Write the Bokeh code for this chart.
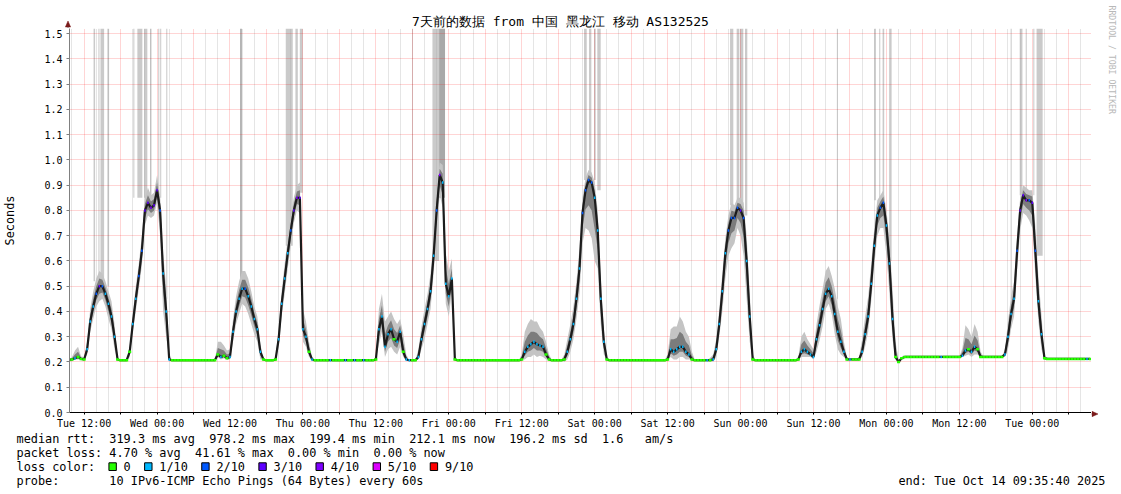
import re
import math
from bokeh.plotting import figure
from bokeh.layouts import column, row
from bokeh.models import Range1d, FixedTicker, PrintfTickFormatter
from bokeh.core.properties import value
from bokeh.embed import file_html
from bokeh.resources import INLINE

# ------------------------------------------------------------------ data
# time axis: hours after Tue Oct 7 2025 00:00, one sample every 30 minutes
FIRST_SAMPLE_HOUR = 9.5
SAMPLE_STEP_H = 0.5

# median round-trip time (seconds)
median_rtt = [
    0.208, 0.210, 0.215, 0.220, 0.212,
    0.210, 0.250, 0.360, 0.420, 0.470, 0.500, 0.500, 0.470, 0.430, 0.380, 0.300, 0.210,
    0.207, 0.207, 0.207, 0.240, 0.350, 0.450, 0.540, 0.640, 0.800, 0.830, 0.810, 0.820,
    0.880, 0.800, 0.550, 0.400, 0.210, 0.207, 0.207, 0.207, 0.207, 0.207, 0.207, 0.207,
    0.207, 0.207, 0.207, 0.207, 0.207, 0.207, 0.207, 0.207, 0.230, 0.220, 0.225, 0.215,
    0.220, 0.320, 0.400, 0.450, 0.490, 0.490, 0.460, 0.420, 0.370, 0.330, 0.240, 0.210,
    0.207, 0.207, 0.207, 0.210, 0.290, 0.430, 0.530, 0.630, 0.720, 0.800, 0.850, 0.850,
    0.330, 0.300, 0.240, 0.210, 0.207, 0.207, 0.207, 0.207, 0.207, 0.207, 0.207, 0.207,
    0.207, 0.207, 0.207, 0.207, 0.207, 0.207, 0.207, 0.207, 0.207, 0.207, 0.207, 0.207,
    0.210, 0.330, 0.380, 0.260, 0.310, 0.330, 0.290, 0.280, 0.320, 0.240, 0.210, 0.207,
    0.207, 0.207, 0.220, 0.290, 0.350, 0.410, 0.480, 0.620, 0.800, 0.940, 0.910, 0.510,
    0.460, 0.530, 0.210, 0.207, 0.207, 0.207, 0.207, 0.207, 0.207, 0.207, 0.207, 0.207,
    0.207, 0.207, 0.207, 0.207, 0.207, 0.207, 0.207, 0.207, 0.207, 0.207, 0.207, 0.207,
    0.210, 0.240, 0.260, 0.270, 0.280, 0.270, 0.265, 0.260, 0.230, 0.210, 0.207, 0.207,
    0.207, 0.207, 0.210, 0.240, 0.290, 0.350, 0.450, 0.570, 0.790, 0.880, 0.920, 0.910,
    0.850, 0.720, 0.450, 0.280, 0.210, 0.207, 0.207, 0.207, 0.207, 0.207, 0.207, 0.207,
    0.207, 0.207, 0.207, 0.207, 0.207, 0.207, 0.207, 0.207, 0.207, 0.207, 0.207, 0.207,
    0.210, 0.250, 0.240, 0.250, 0.260, 0.260, 0.240, 0.230, 0.210, 0.207, 0.207, 0.207,
    0.207, 0.207, 0.207, 0.210, 0.250, 0.350, 0.480, 0.630, 0.720, 0.770, 0.770, 0.810,
    0.800, 0.770, 0.600, 0.380, 0.210, 0.207, 0.207, 0.207, 0.207, 0.207, 0.207, 0.207,
    0.207, 0.207, 0.207, 0.207, 0.207, 0.207, 0.207, 0.210, 0.240, 0.250, 0.240, 0.230,
    0.220, 0.290, 0.345, 0.410, 0.470, 0.490, 0.460, 0.390, 0.320, 0.280, 0.240, 0.210,
    0.210, 0.210, 0.210, 0.210, 0.240, 0.310, 0.380, 0.510, 0.660, 0.780, 0.810, 0.830,
    0.740, 0.590, 0.370, 0.220, 0.200, 0.215, 0.220, 0.220, 0.220, 0.220, 0.220, 0.220,
    0.220, 0.220, 0.220, 0.220, 0.220, 0.220, 0.220, 0.220, 0.220, 0.220, 0.220, 0.220,
    0.220, 0.225, 0.245, 0.250, 0.240, 0.260, 0.250, 0.220, 0.220, 0.220, 0.220, 0.220,
    0.220, 0.220, 0.220, 0.230, 0.300, 0.390, 0.450, 0.640, 0.800, 0.860, 0.840, 0.840,
    0.830, 0.640, 0.440, 0.310, 0.215, 0.212, 0.212, 0.212, 0.212, 0.212, 0.212, 0.212,
    0.212, 0.212, 0.212, 0.212, 0.212, 0.212, 0.212, 0.212,
]

# smoke: spread of the pings above / below the median (seconds)
smoke_up = [
    0.000, 0.010, 0.030, 0.040, 0.010,
    0.010, 0.030, 0.050, 0.060, 0.060, 0.060, 0.050, 0.050, 0.050, 0.060, 0.050, 0.010,
    0.000, 0.000, 0.000, 0.020, 0.040, 0.050, 0.050, 0.060, 0.050, 0.060, 0.050, 0.050,
    0.060, 0.060, 0.080, 0.100, 0.020, 0.000, 0.000, 0.000, 0.000, 0.000, 0.000, 0.000,
    0.000, 0.000, 0.000, 0.000, 0.000, 0.000, 0.000, 0.000, 0.050, 0.060, 0.040, 0.030,
    0.030, 0.050, 0.060, 0.070, 0.070, 0.070, 0.070, 0.060, 0.050, 0.050, 0.030, 0.000,
    0.000, 0.000, 0.000, 0.010, 0.040, 0.050, 0.060, 0.060, 0.060, 0.050, 0.050, 0.060,
    0.080, 0.060, 0.040, 0.010, 0.000, 0.000, 0.000, 0.000, 0.000, 0.000, 0.000, 0.000,
    0.000, 0.000, 0.000, 0.000, 0.000, 0.000, 0.000, 0.000, 0.000, 0.000, 0.000, 0.000,
    0.010, 0.080, 0.090, 0.100, 0.070, 0.070, 0.080, 0.070, 0.050, 0.070, 0.020, 0.000,
    0.000, 0.000, 0.030, 0.050, 0.060, 0.060, 0.070, 0.070, 0.080, 0.050, 0.070, 0.120,
    0.100, 0.080, 0.010, 0.000, 0.000, 0.000, 0.000, 0.000, 0.000, 0.000, 0.000, 0.000,
    0.000, 0.000, 0.000, 0.000, 0.000, 0.000, 0.000, 0.000, 0.000, 0.000, 0.000, 0.000,
    0.020, 0.080, 0.090, 0.100, 0.080, 0.090, 0.070, 0.060, 0.050, 0.020, 0.000, 0.000,
    0.000, 0.000, 0.020, 0.050, 0.060, 0.070, 0.070, 0.080, 0.060, 0.050, 0.040, 0.040,
    0.060, 0.080, 0.080, 0.050, 0.010, 0.000, 0.000, 0.000, 0.000, 0.000, 0.000, 0.000,
    0.000, 0.000, 0.000, 0.000, 0.000, 0.000, 0.000, 0.000, 0.000, 0.000, 0.000, 0.000,
    0.020, 0.080, 0.100, 0.090, 0.120, 0.100, 0.080, 0.070, 0.030, 0.000, 0.000, 0.000,
    0.000, 0.000, 0.010, 0.020, 0.040, 0.060, 0.070, 0.060, 0.060, 0.060, 0.050, 0.040,
    0.050, 0.060, 0.100, 0.100, 0.020, 0.000, 0.000, 0.000, 0.000, 0.000, 0.000, 0.000,
    0.000, 0.000, 0.000, 0.000, 0.000, 0.000, 0.000, 0.010, 0.060, 0.070, 0.050, 0.040,
    0.030, 0.060, 0.080, 0.080, 0.090, 0.090, 0.080, 0.100, 0.100, 0.090, 0.040, 0.010,
    0.000, 0.000, 0.000, 0.010, 0.050, 0.070, 0.080, 0.080, 0.070, 0.060, 0.050, 0.050,
    0.060, 0.100, 0.120, 0.060, 0.010, 0.000, 0.000, 0.000, 0.000, 0.000, 0.000, 0.000,
    0.000, 0.000, 0.000, 0.000, 0.000, 0.000, 0.000, 0.000, 0.000, 0.000, 0.000, 0.000,
    0.000, 0.030, 0.100, 0.080, 0.060, 0.090, 0.070, 0.020, 0.000, 0.000, 0.000, 0.000,
    0.000, 0.000, 0.000, 0.020, 0.060, 0.070, 0.070, 0.060, 0.050, 0.040, 0.050, 0.040,
    0.050, 0.100, 0.100, 0.080, 0.010, 0.000, 0.000, 0.000, 0.000, 0.000, 0.000, 0.000,
    0.000, 0.000, 0.000, 0.000, 0.000, 0.000, 0.000, 0.000,
]
smoke_dn = [
    0.000, 0.000, 0.005, 0.010, 0.000,
    0.000, 0.020, 0.040, 0.050, 0.050, 0.060, 0.050, 0.050, 0.060, 0.050, 0.050, 0.000,
    0.000, 0.000, 0.000, 0.020, 0.030, 0.050, 0.050, 0.060, 0.060, 0.050, 0.040, 0.040,
    0.050, 0.100, 0.150, 0.100, 0.000, 0.000, 0.000, 0.000, 0.000, 0.000, 0.000, 0.000,
    0.000, 0.000, 0.000, 0.000, 0.000, 0.000, 0.000, 0.000, 0.010, 0.010, 0.010, 0.005,
    0.010, 0.040, 0.050, 0.060, 0.060, 0.070, 0.070, 0.070, 0.060, 0.050, 0.030, 0.000,
    0.000, 0.000, 0.000, 0.000, 0.030, 0.050, 0.060, 0.060, 0.060, 0.050, 0.050, 0.060,
    0.050, 0.040, 0.020, 0.000, 0.000, 0.000, 0.000, 0.000, 0.000, 0.000, 0.000, 0.000,
    0.000, 0.000, 0.000, 0.000, 0.000, 0.000, 0.000, 0.000, 0.000, 0.000, 0.000, 0.000,
    0.000, 0.060, 0.060, 0.040, 0.060, 0.070, 0.050, 0.050, 0.060, 0.020, 0.000, 0.000,
    0.000, 0.000, 0.010, 0.040, 0.060, 0.060, 0.070, 0.070, 0.080, 0.080, 0.100, 0.080,
    0.080, 0.050, 0.000, 0.000, 0.000, 0.000, 0.000, 0.000, 0.000, 0.000, 0.000, 0.000,
    0.000, 0.000, 0.000, 0.000, 0.000, 0.000, 0.000, 0.000, 0.000, 0.000, 0.000, 0.000,
    0.000, 0.030, 0.040, 0.050, 0.050, 0.050, 0.040, 0.040, 0.020, 0.000, 0.000, 0.000,
    0.000, 0.000, 0.010, 0.030, 0.050, 0.060, 0.080, 0.100, 0.120, 0.150, 0.200, 0.220,
    0.250, 0.150, 0.100, 0.050, 0.000, 0.000, 0.000, 0.000, 0.000, 0.000, 0.000, 0.000,
    0.000, 0.000, 0.000, 0.000, 0.000, 0.000, 0.000, 0.000, 0.000, 0.000, 0.000, 0.000,
    0.000, 0.030, 0.030, 0.040, 0.040, 0.040, 0.030, 0.020, 0.000, 0.000, 0.000, 0.000,
    0.000, 0.000, 0.000, 0.010, 0.030, 0.050, 0.080, 0.100, 0.100, 0.120, 0.100, 0.080,
    0.100, 0.150, 0.150, 0.100, 0.000, 0.000, 0.000, 0.000, 0.000, 0.000, 0.000, 0.000,
    0.000, 0.000, 0.000, 0.000, 0.000, 0.000, 0.000, 0.000, 0.020, 0.030, 0.020, 0.010,
    0.010, 0.050, 0.060, 0.070, 0.060, 0.060, 0.070, 0.080, 0.070, 0.050, 0.020, 0.000,
    0.000, 0.000, 0.000, 0.000, 0.020, 0.050, 0.060, 0.070, 0.080, 0.080, 0.080, 0.100,
    0.120, 0.120, 0.080, 0.010, 0.000, 0.000, 0.000, 0.000, 0.000, 0.000, 0.000, 0.000,
    0.000, 0.000, 0.000, 0.000, 0.000, 0.000, 0.000, 0.000, 0.000, 0.000, 0.000, 0.000,
    0.000, 0.005, 0.020, 0.020, 0.020, 0.030, 0.020, 0.000, 0.000, 0.000, 0.000, 0.000,
    0.000, 0.000, 0.000, 0.010, 0.050, 0.060, 0.070, 0.080, 0.080, 0.070, 0.060, 0.080,
    0.100, 0.100, 0.080, 0.060, 0.000, 0.000, 0.000, 0.000, 0.000, 0.000, 0.000, 0.000,
    0.000, 0.000, 0.000, 0.000, 0.000, 0.000, 0.000, 0.000,
]

# lost pings out of 10 per sample
loss = [
    0, 0, 1, 0, 0,
    0, 1, 1, 1, 2, 3, 2, 1, 1, 1, 1, 0,
    0, 0, 0, 0, 1, 1, 2, 2, 3, 3, 4, 3,
    3, 2, 1, 1, 1, 0, 0, 0, 0, 0, 0, 0,
    0, 0, 0, 0, 0, 0, 0, 0, 0, 1, 0, 0,
    1, 1, 1, 1, 1, 2, 1, 1, 1, 1, 1, 0,
    0, 0, 0, 0, 1, 1, 1, 1, 2, 3, 4, 3,
    1, 1, 0, 1, 0, 0, 0, 0, 0, 1, 0, 0,
    0, 0, 1, 0, 0, 1, 0, 0, 1, 0, 0, 0,
    0, 1, 1, 1, 1, 1, 0, 1, 1, 0, 1, 1,
    0, 0, 1, 1, 1, 1, 1, 1, 2, 4, 1, 1,
    1, 1, 0, 0, 0, 0, 0, 0, 0, 0, 0, 0,
    0, 0, 0, 0, 0, 0, 0, 0, 0, 0, 0, 0,
    0, 1, 1, 1, 1, 1, 1, 1, 0, 0, 0, 0,
    0, 0, 0, 1, 1, 1, 1, 1, 2, 2, 2, 2,
    1, 1, 1, 1, 0, 0, 0, 0, 0, 0, 0, 0,
    0, 0, 0, 0, 0, 0, 0, 0, 0, 0, 0, 0,
    0, 1, 1, 1, 1, 1, 1, 1, 0, 0, 0, 0,
    0, 1, 0, 1, 1, 1, 1, 1, 2, 2, 2, 2,
    3, 2, 1, 1, 0, 0, 0, 0, 0, 0, 0, 0,
    0, 0, 0, 0, 0, 0, 0, 0, 1, 1, 1, 1,
    1, 1, 1, 1, 1, 1, 1, 1, 1, 1, 1, 0,
    1, 0, 0, 0, 1, 1, 1, 1, 1, 1, 2, 2,
    1, 1, 1, 0, 0, 0, 0, 0, 0, 0, 0, 0,
    0, 0, 0, 0, 0, 0, 1, 0, 0, 0, 0, 0,
    0, 1, 1, 0, 1, 1, 0, 0, 0, 0, 0, 0,
    0, 0, 0, 1, 1, 1, 1, 2, 3, 3, 4, 2,
    3, 2, 1, 1, 0, 0, 0, 0, 0, 0, 0, 0,
    0, 0, 0, 0, 0, 0, 1, 0,
]

# pings beyond the graph top (vertical smoke columns)
spike_hour = [13.68, 14.44, 14.99, 15.97, 20.18, 21.17, 22.13, 22.97, 24.28, 24.60,
              25.60, 37.81, 45.75, 46.96, 47.73, 66.03, 69.85, 70.89, 94.47, 95.26,
              96.03, 96.71, 118.54, 119.58, 120.18, 120.92, 135.92, 142.13, 142.90,
              143.50, 144.65, 164.52, 166.15, 167.00, 168.25, 169.20]
spike_width = [0.25, 0.17, 0.60, 0.28, 0.17, 0.82, 0.54, 0.17, 0.17, 0.17,
               0.17, 0.28, 1.15, 0.39, 0.49, 0.15, 1.09, 0.98, 0.44, 0.38,
               0.28, 0.56, 0.54, 0.44, 0.54, 0.38, 0.15, 0.28, 0.17,
               0.26, 0.40, 0.17, 0.45, 0.17, 0.17, 1.00]
spike_bottom = [0.52, 0.52, 0.52, 0.50, 0.85, 0.85, 0.85, 0.85, 0.88, 0.85,
                0.45, 0.50, 0.66, 0.87, 0.87, 0.21, 0.60, 0.85, 0.92, 0.92,
                0.92, 0.88, 0.82, 0.82, 0.82, 0.78, 0.45, 0.84, 0.84,
                0.84, 0.60, 0.45, 0.86, 0.86, 0.86, 0.62]
spike_dark = [0, 0, 0, 0, 0, 0, 0, 1, 0, 0,
              0, 1, 0, 0, 0, 0, 0, 1, 0, 0,
              0, 0, 0, 0, 0, 0, 0, 0, 0,
              0, 0, 0, 0, 0, 0, 0]

tick_hours = [12, 24, 36, 48, 60, 72, 84, 96, 108, 120, 132, 144, 156, 168]
tick_labels = ["Tue 12:00", "Wed 00:00", "Wed 12:00", "Thu 00:00", "Thu 12:00",
               "Fri 00:00", "Fri 12:00", "Sat 00:00", "Sat 12:00", "Sun 00:00",
               "Sun 12:00", "Mon 00:00", "Mon 12:00", "Tue 00:00"]
y_ticks = [0.0, 0.1, 0.2, 0.3, 0.4, 0.5, 0.6, 0.7, 0.8, 0.9, 1.0, 1.1, 1.2, 1.3, 1.4, 1.5]

loss_levels = [0, 1, 2, 3, 4, 5, 9]
loss_labels = ["0", "1/10", "2/10", "3/10", "4/10", "5/10", "9/10"]
loss_colors = ["#26ff00", "#00b8ff", "#0059ff", "#5e00ff", "#7e00ff", "#dd00ff", "#ff0000"]

title_text = "7天前的数据 from 中国 黑龙江 移动 AS132525"
rtt_row = "median rtt:  319.3 ms avg  978.2 ms max  199.4 ms min  212.1 ms now  196.2 ms sd  1.6   am/s"
pl_row = "packet loss: 4.70 % avg  41.61 % max  0.00 % min  0.00 % now"
probe_row = "probe:       10 IPv6-ICMP Echo Pings (64 Bytes) every 60s"
end_text = "end: Tue Oct 14 09:35:40 2025"
credit_text = "RRDTOOL / TOBI OETIKER"

n = len(median_rtt)
if not (len(smoke_up) == n and len(smoke_dn) == n and len(loss) == n):
    raise SystemExit("length mismatch %d %d %d %d" % (n, len(smoke_up), len(smoke_dn), len(loss)))
hours = [FIRST_SAMPLE_HOUR + SAMPLE_STEP_H * i for i in range(n)]

# ------------------------------------------------------------------ layout
FONT = "DejaVu Sans Mono"
PAGE_W, PAGE_H = 1121, 494
FRAME_L, FRAME_T = 67, 28          # page pixels of the graph area
FRAME_W, FRAME_H = 1024, 385
FRAME_R = FRAME_L + FRAME_W        # 1091
FRAME_B = FRAME_T + FRAME_H        # 413
MAIN_BOTTOM = 431                  # bottom of the main graph block
X_START = 9.594                    # Tue Oct 7 09:35:40
PX_PER_H = 6.09
X_END = X_START + FRAME_W / PX_PER_H
Y_TOP = 1.52
ARROW_C = "#7a1a1a"


def blank(width, height, x0, x1, y0, y1):
    """figure whose whole canvas is a frame measured in page pixels (y down)"""
    f = figure(width=width, height=height, output_backend="svg", toolbar_location=None,
               x_range=Range1d(x0, x1), y_range=Range1d(y1, y0),
               x_axis_location=None, y_axis_location=None, min_border=0,
               outline_line_color=None, background_fill_color="white",
               border_fill_color="white")
    f.grid.visible = False
    return f


# --- top strip: title and y-axis arrow
top = blank(FRAME_R, FRAME_T, 0, FRAME_R, 0, FRAME_T)
top.text(x=[560], y=[21], text=[title_text], text_font=value(FONT),
         text_font_size=value("13px"), text_align="center", text_baseline="middle",
         text_color="black")
top.segment(x0=[FRAME_L + 0.5], y0=[24], x1=[FRAME_L + 0.5], y1=[FRAME_T],
            line_color="#808080", line_width=1)
top.patch(x=[FRAME_L + 0.5 - 2.6, FRAME_L + 0.5 + 2.6, FRAME_L + 0.5], y=[26.5, 26.5, 20.5],
          fill_color=ARROW_C, line_color=ARROW_C, line_width=0.5)

# --- main graph
p = figure(width=FRAME_R, height=MAIN_BOTTOM - FRAME_T, output_backend="svg",
           toolbar_location=None,
           x_range=Range1d(X_START, X_END), y_range=Range1d(0, Y_TOP),
           min_border_left=FRAME_L, min_border_right=0, min_border_top=0,
           min_border_bottom=MAIN_BOTTOM - FRAME_B,
           background_fill_color="white", border_fill_color="white",
           outline_line_color=None)

six_h = [h for h in range(12, 178, 6)]
two_h = [h for h in range(10, 178, 2) if h % 6 != 0]
p.xgrid.ticker = FixedTicker(ticks=six_h, minor_ticks=two_h)
p.xgrid.grid_line_color = "#ff0000"
p.xgrid.grid_line_alpha = 0.33
p.xgrid.grid_line_dash = "1 1"
p.xgrid.minor_grid_line_color = "#a8a8a8"
p.xgrid.minor_grid_line_alpha = 0.6
p.xgrid.minor_grid_line_dash = "1 1"
p.ygrid.ticker = FixedTicker(ticks=y_ticks)
p.ygrid.grid_line_color = "#ff0000"
p.ygrid.grid_line_alpha = 0.33
p.ygrid.grid_line_dash = "1 1"

p.xaxis.ticker = FixedTicker(ticks=tick_hours, minor_ticks=[h for h in six_h if h % 12 != 0])
p.xaxis.major_label_overrides = dict(zip(tick_hours, tick_labels))
p.xaxis.axis_line_color = "black"
p.xaxis.major_tick_line_color = "black"
p.xaxis.minor_tick_line_color = "black"
p.xaxis.major_tick_in = 0
p.xaxis.major_tick_out = 2
p.xaxis.minor_tick_in = 0
p.xaxis.minor_tick_out = 2
p.xaxis.major_label_standoff = 3
p.yaxis.ticker = FixedTicker(ticks=y_ticks)
p.yaxis.formatter = PrintfTickFormatter(format="%.1f")
p.yaxis.axis_line_color = "#808080"
p.yaxis.major_tick_line_color = "#808080"
p.yaxis.major_tick_in = 0
p.yaxis.major_tick_out = 3
p.yaxis.minor_tick_line_color = None
p.yaxis.major_label_standoff = 4
p.yaxis.axis_label = "Seconds"
p.yaxis.axis_label_text_font = FONT
p.yaxis.axis_label_text_font_size = "11.86px"
p.yaxis.axis_label_text_font_style = "normal"
p.yaxis.axis_label_text_color = "black"
p.yaxis.axis_label_standoff = 24
for ax in (p.xaxis, p.yaxis):
    ax.major_label_text_font = FONT
    ax.major_label_text_font_size = "10px"
    ax.major_label_text_color = "black"

# pings above the top of the graph
spike_fill = ["#a9a9a9" if d else "#cacaca" for d in spike_dark]
p.vbar(x=spike_hour, width=spike_width, bottom=spike_bottom, top=Y_TOP,
       fill_color=spike_fill, line_color=None, level="image")

# smoke
lo = [m - d for m, d in zip(median_rtt, smoke_dn)]
hi = [m + u for m, u in zip(median_rtt, smoke_up)]
mlo = [m - 0.5 * d for m, d in zip(median_rtt, smoke_dn)]
mhi = [m + 0.5 * u for m, u in zip(median_rtt, smoke_up)]
p.varea(x=hours, y1=lo, y2=hi, fill_color="#c4c4c4")
p.varea(x=hours, y1=mlo, y2=mhi, fill_color="#7c7c7c")
p.line(hours, median_rtt, line_color="#1c1c1c", line_width=2.2)

# median markers coloured by packet loss
cmap = dict(zip(loss_levels, loss_colors))
half = [SAMPLE_STEP_H / 2 if l == 0 else SAMPLE_STEP_H / 4 for l in loss]
p.segment(x0=[h - w for h, w in zip(hours, half)], x1=[h + w for h, w in zip(hours, half)],
          y0=median_rtt, y1=median_rtt, line_color=[cmap[l] for l in loss], line_width=2.5)

# --- right strip (full height of the graph block): x-axis arrow and credit text
right = blank(PAGE_W - FRAME_R, MAIN_BOTTOM, FRAME_R, PAGE_W, 0, MAIN_BOTTOM)
right.segment(x0=[FRAME_R], y0=[FRAME_B + 0.5], x1=[FRAME_R + 2], y1=[FRAME_B + 0.5],
              line_color="black", line_width=1)
right.patch(x=[FRAME_R + 0.5, FRAME_R + 0.5, FRAME_R + 6.5],
            y=[FRAME_B + 0.5 - 2.7, FRAME_B + 0.5 + 2.7, FRAME_B + 0.5],
            fill_color=ARROW_C, line_color=ARROW_C, line_width=0.5)
right.text(x=[1111.5], y=[5], text=[credit_text], angle=-math.pi / 2,
           text_font=value(FONT), text_font_size=value("8.2px"), text_align="left",
           text_baseline="middle", text_color="#b8b8b8")

# --- bottom strip: legend lines
bottom = blank(PAGE_W, PAGE_H - MAIN_BOTTOM, 0, PAGE_W, MAIN_BOTTOM, PAGE_H)
CELL = 7.14
TEXT_X = 16
tx, ty, tt = [], [], []


def text_row(txt, py):
    for m in re.finditer(r"\S+(?: \S+)*", txt):
        tx.append(TEXT_X + m.start() * CELL)
        ty.append(py)
        tt.append(m.group(0))


text_row(rtt_row, 438)
text_row(pl_row, 452)
lc_row = "loss color:  "
square_idx = []
for lab in loss_labels:
    square_idx.append(len(lc_row))
    lc_row += "  " + lab + "  "
text_row(lc_row, 466)
text_row(probe_row, 480)
bottom.text(x=tx, y=ty, text=tt, text_font=value(FONT), text_font_size=value("11.86px"),
            text_align="left", text_baseline="middle", text_color="black")
bottom.text(x=[1105], y=[480], text=[end_text], text_font=value(FONT),
            text_font_size=value("11.86px"), text_align="right", text_baseline="middle",
            text_color="black")
sq_left = [TEXT_X + i * CELL - 0.4 for i in square_idx]
bottom.quad(left=sq_left, right=[x + 7.4 for x in sq_left],
            top=[462.3] * len(sq_left), bottom=[470] * len(sq_left),
            fill_color=loss_colors, line_color="black", line_width=1)

left_block = column(row(top), p)
layout = column(row(left_block, column(right)), bottom)
open("out.html", "w").write(file_html(layout, INLINE))
